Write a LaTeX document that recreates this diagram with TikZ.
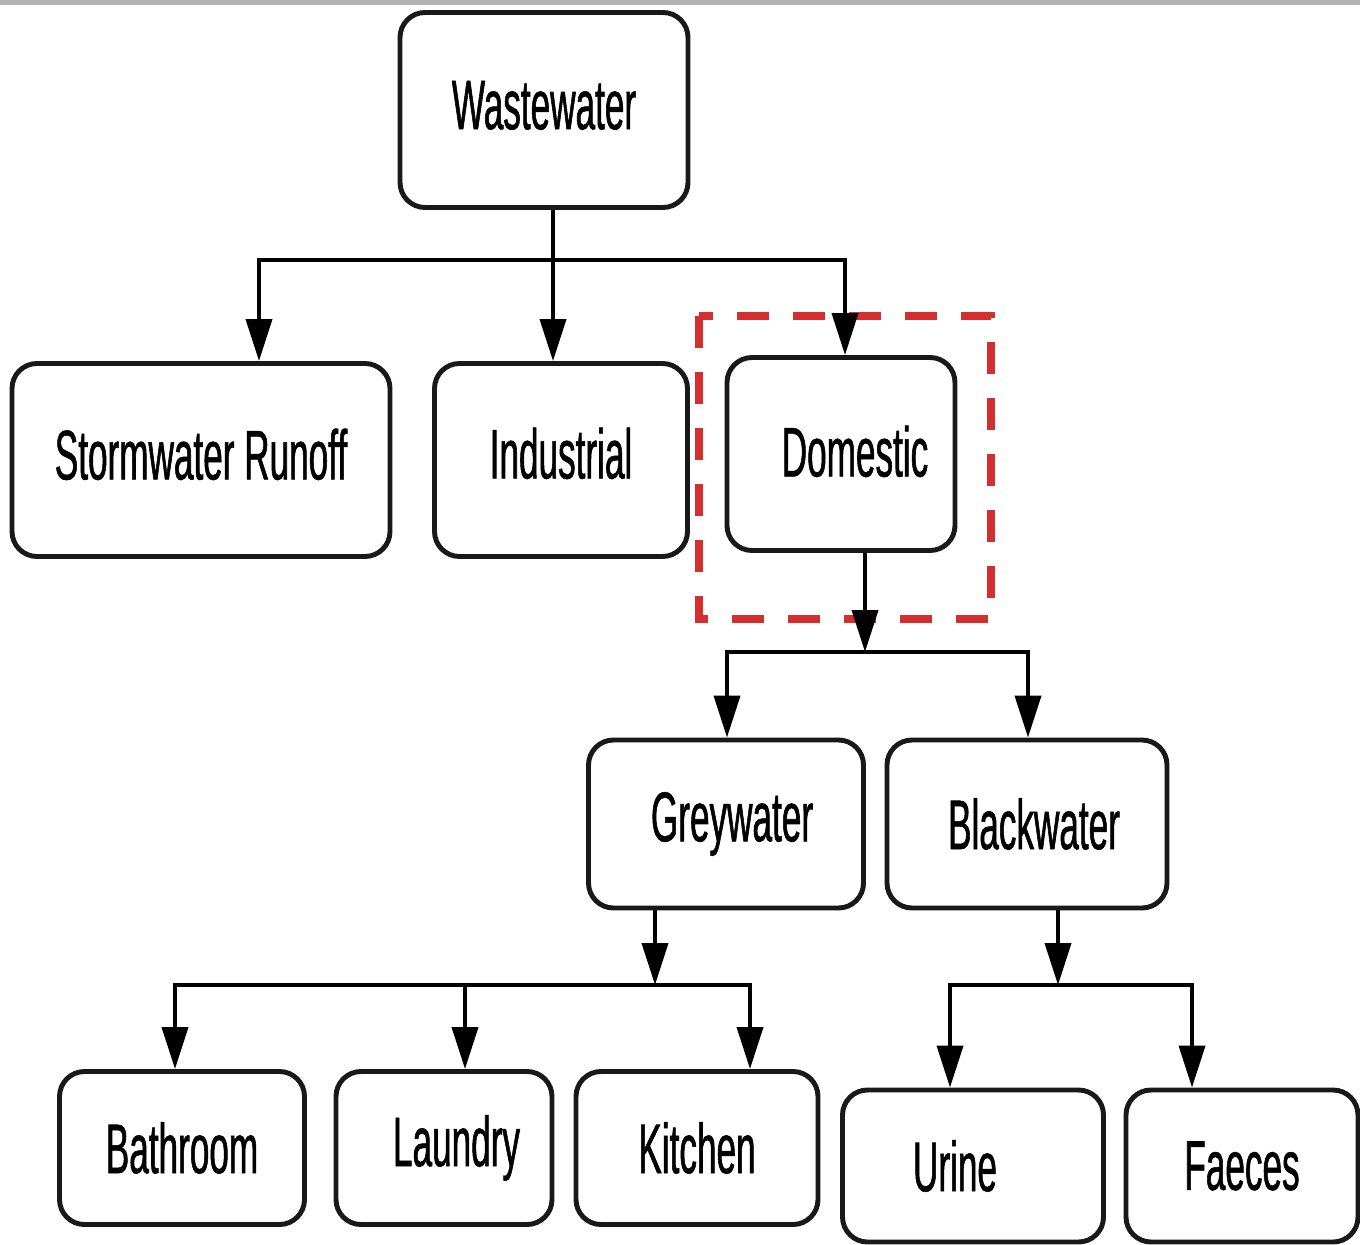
\documentclass[tikz,border=0pt]{standalone}
\usepackage{fontspec}
\setmainfont{Liberation Sans}[FakeStretch=0.5, FakeBold=0.8]
\usepackage{xcolor}
\usepackage{tikz}
\usetikzlibrary{arrows.meta, positioning}
\definecolor{domred}{HTML}{D42E2E}

\begin{document}
\begin{tikzpicture}[
  box/.style={rectangle, draw=black!90, fill=white, line width=1.4pt, rounded corners=0.25cm,
    inner sep=0pt, font=\fontsize{20}{24}\selectfont, align=center},
  arr/.style={line width=1.1pt, -{Triangle[length=4.2mm, width=2.6mm]}},
  duo/.style={line width=1.1pt, {Triangle[length=4.2mm, width=2.6mm]}-{Triangle[length=4.2mm, width=2.6mm]}},
  redbox/.style={draw=domred, line width=2.4pt, dash pattern=on 3.2mm off 2.4mm},
]
  \useasboundingbox (0,0) rectangle (13.6,-12.45);
  \draw[gray!60, line width=0.6mm] (0,-0.02) -- (13.6,-0.02);

  % boxes
  \node[box, minimum width=2.88cm, minimum height=1.95cm] (ww)     at (5.44,-1.10)  {\raisebox{0.1cm}{Wastewater}};
  \node[box, minimum width=3.78cm, minimum height=1.93cm] (storm)  at (2.01,-4.60)  {\raisebox{0.12cm}{Stormwater Runoff}};
  \node[box, minimum width=2.53cm, minimum height=1.93cm] (ind)    at (5.61,-4.60)  {\raisebox{0.14cm}{Industrial}};
  \node[box, minimum width=2.28cm, minimum height=1.93cm] (dom)    at (8.41,-4.54)  {\hspace*{0.28cm}\raisebox{0.06cm}{Domestic}};
  \node[box, minimum width=2.75cm, minimum height=1.68cm] (grey)   at (7.26,-8.24)  {\hspace*{0.12cm}Greywater};
  \node[box, minimum width=2.80cm, minimum height=1.68cm] (black)  at (10.27,-8.24) {\hspace*{0.14cm}Blackwater};
  \node[box, minimum width=2.45cm, minimum height=1.53cm] (bath)   at (1.82,-11.48) {\raisebox{-0.08cm}{Bathroom}};
  \node[box, minimum width=2.16cm, minimum height=1.53cm] (laun)   at (4.44,-11.48) {\hspace*{0.25cm}\raisebox{-0.05cm}{Laundry}};
  \node[box, minimum width=2.42cm, minimum height=1.53cm] (kit)    at (6.97,-11.48) {Kitchen};
  \node[box, minimum width=2.61cm, minimum height=1.52cm] (urine)  at (9.73,-11.66) {Urine\hspace*{0.36cm}};
  \node[box, minimum width=2.32cm, minimum height=1.52cm] (faeces) at (12.42,-11.66) {Faeces};

  % highlight round Domestic
  \draw[redbox] (6.99,-3.16) rectangle (9.91,-6.19);

  % junction points
  \coordinate (b1)  at (5.53,-2.60);
  \coordinate (b1l) at (2.59,-2.60);
  \coordinate (b1r) at (8.45,-2.60);
  \coordinate (b2)  at (8.65,-6.52);
  \coordinate (b2l) at (7.27,-6.52);
  \coordinate (b2r) at (10.28,-6.52);
  \coordinate (b3)  at (6.55,-9.85);
  \coordinate (b3l) at (1.75,-9.85);
  \coordinate (b3m) at (4.65,-9.85);
  \coordinate (b3r) at (7.50,-9.85);
  \coordinate (b4)  at (10.58,-9.85);
  \coordinate (b4l) at (9.50,-9.85);
  \coordinate (b4r) at (11.92,-9.85);

  % connectors
  \draw[arr] (ww.south -| b1) -- (ind.north -| b1);
  \draw[duo] (storm.north -| b1l) -- (b1l) -- (b1r) -- (dom.north -| b1r);

  \draw[arr] (dom.south -| b2) -- (b2);
  \draw[duo] (grey.north -| b2l) -- (b2l) -- (b2r) -- (black.north -| b2r);

  \draw[arr] (grey.south -| b3) -- (b3);
  \draw[duo] (bath.north -| b3l) -- (b3l) -- (b3r) -- (kit.north -| b3r);
  \draw[arr] (b3m) -- (laun.north -| b3m);

  \draw[arr] (black.south -| b4) -- (b4);
  \draw[duo] (urine.north -| b4l) -- (b4l) -- (b4r) -- (faeces.north -| b4r);
\end{tikzpicture}
\end{document}
